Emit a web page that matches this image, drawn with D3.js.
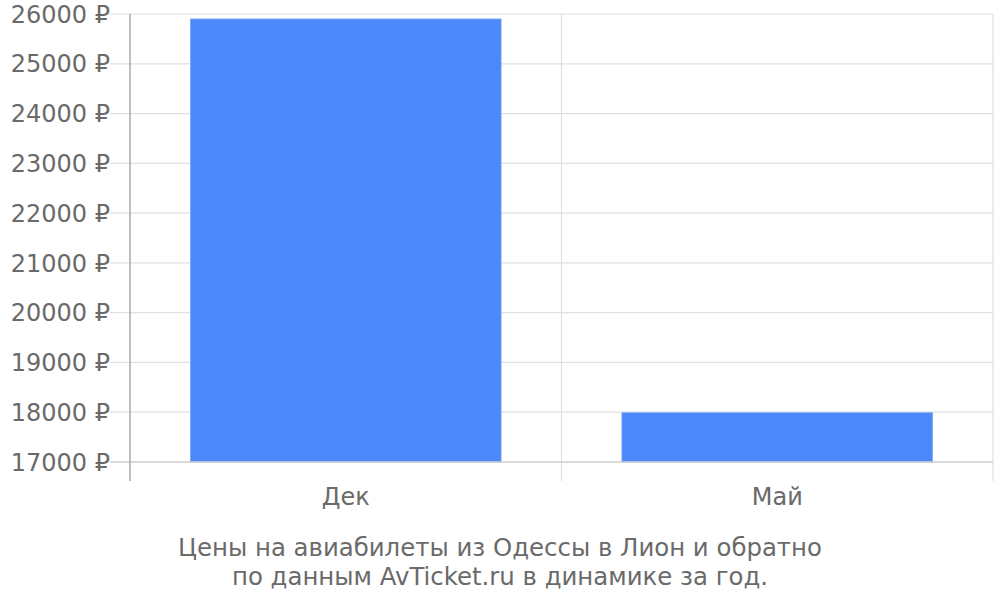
<!DOCTYPE html>
<html><head><meta charset="utf-8">
<script src="https://cdn.jsdelivr.net/npm/d3@7/dist/d3.min.js"></script>
<style>body{margin:0;background:#fff;}text{font-family:"DejaVu Sans",sans-serif;}</style>
</head><body>
<svg id="c" width="1000" height="600"></svg>
<script>
const categories = ["Дек", "Май"];
const prices = [25900, 17990];
const yTicks = [17000, 18000, 19000, 20000, 21000, 22000, 23000, 24000, 25000, 26000];
const titleLines = ["Цены на авиабилеты из Одессы в Лион и обратно", "по данным AvTicket.ru в динамике за год."];

const svg = d3.select("#c");
const L = 130, R = 993, T = 14, B = 462;
const x = d3.scaleBand().domain(categories).range([L, R]).paddingInner(0.28).paddingOuter(0.14);
const y = d3.scaleLinear().domain([17000, 26000]).range([B, T]);

// horizontal gridlines
svg.append("g").selectAll("line").data(yTicks.filter(d => d !== 17000)).join("line")
  .attr("x1", L - 20).attr("x2", R).attr("y1", d => y(d)).attr("y2", d => y(d))
  .attr("stroke", "#e0e0e0").attr("stroke-width", 1.2);

// vertical gridlines at band boundaries
const step = x.step();
const vx = [L + step, R];
svg.append("g").selectAll("line").data(vx).join("line")
  .attr("x1", d => d).attr("x2", d => d).attr("y1", T).attr("y2", 481)
  .attr("stroke", "#e0e0e0").attr("stroke-width", 1.2);

// bars
svg.append("g").selectAll("rect").data(prices).join("rect")
  .attr("x", (d, i) => x(categories[i])).attr("width", x.bandwidth())
  .attr("y", d => y(d)).attr("height", d => B - y(d))
  .attr("fill", "#4b89fa").attr("stroke", "#7ea9fb").attr("stroke-width", 0.8);

// baseline
svg.append("line").attr("x1", L - 20).attr("x2", R).attr("y1", B).attr("y2", B)
  .attr("stroke", "#cccccc").attr("stroke-width", 1.5);
// left axis
svg.append("line").attr("x1", L).attr("x2", L).attr("y1", T).attr("y2", 481)
  .attr("stroke", "#aaaaaa").attr("stroke-width", 1.5);

// y labels
svg.append("g").selectAll("text").data(yTicks).join("text")
  .attr("x", 110).attr("y", d => y(d)).attr("dy", "0.36em")
  .attr("text-anchor", "end").attr("fill", "#6a6a6a").attr("font-size", 24)
  .text(d => d + " ₽");

// x labels
svg.append("g").selectAll("text").data(categories).join("text")
  .attr("x", d => x(d) + x.bandwidth() / 2).attr("y", 505)
  .attr("text-anchor", "middle").attr("fill", "#6a6a6a").attr("font-size", 24)
  .text(d => d);

// title
svg.append("g").selectAll("text").data(titleLines).join("text")
  .attr("x", 500).attr("y", (d, i) => 556 + i * 29)
  .attr("text-anchor", "middle").attr("fill", "#6a6a6a").attr("font-size", 24.4)
  .text(d => d);
</script>
</body></html>
